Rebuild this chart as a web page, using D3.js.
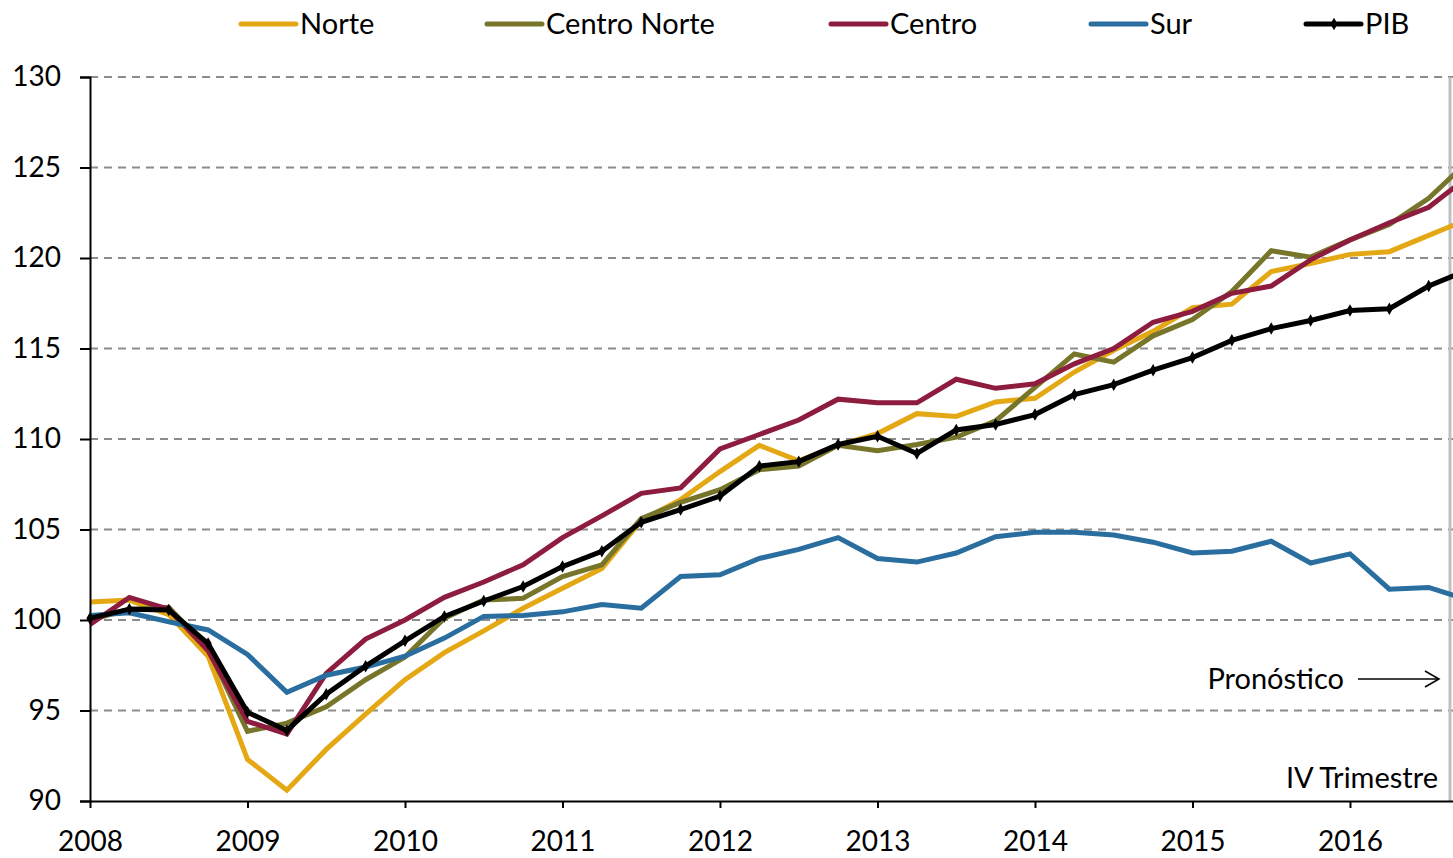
<!DOCTYPE html>
<html>
<head>
<meta charset="utf-8">
<script src="https://cdn.jsdelivr.net/npm/d3@7"></script>
<style>
  body { margin: 0; background: #fff; }
  svg { display: block; font-family: Lato, "Open Sans", sans-serif; }
</style>
</head>
<body>
<svg id="chart" width="1453" height="858"></svg>
<script>
// quarterly index, 2008 Q1 = first point
const years = [2008, 2009, 2010, 2011, 2012, 2013, 2014, 2015, 2016];
const quarters = years.flatMap(y => [0, 0.25, 0.5, 0.75].map(q => y + q));

const norte = [101.0, 101.1, 100.3, 98.0, 92.3, 90.6, 92.85, 94.8, 96.7, 98.2, 99.4, 100.65,
  101.75, 102.85, 105.5, 106.65, 108.2, 109.65, 108.8, 109.65, 110.3, 111.4, 111.25, 112.05,
  112.25, 113.7, 114.9, 115.95, 117.25, 117.45, 119.25, 119.7, 120.2, 120.35, 121.25, 122.15];
const centroNorte = [100.0, 100.6, 100.7, 98.4, 93.85, 94.3, 95.2, 96.7, 97.95, 100.1, 101.1, 101.2,
  102.4, 103.05, 105.6, 106.5, 107.2, 108.3, 108.5, 109.65, 109.35, 109.7, 110.1, 111.0,
  112.85, 114.7, 114.25, 115.7, 116.6, 118.15, 120.4, 120.05, 121.0, 121.85, 123.3, 125.35];
const centro = [99.75, 101.25, 100.6, 98.3, 94.4, 93.7, 97.05, 98.95, 100.0, 101.25, 102.1, 103.05,
  104.55, 105.75, 107.0, 107.3, 109.45, 110.25, 111.05, 112.2, 112.0, 112.0, 113.3, 112.8,
  113.05, 114.15, 115.0, 116.45, 117.05, 118.05, 118.45, 119.9, 121.0, 121.95, 122.8, 124.5];
const sur = [100.25, 100.4, 99.9, 99.45, 98.1, 96.0, 96.95, 97.4, 98.0, 99.0, 100.2, 100.25,
  100.45, 100.85, 100.65, 102.4, 102.5, 103.4, 103.9, 104.55, 103.4, 103.2, 103.7, 104.6,
  104.85, 104.85, 104.7, 104.3, 103.7, 103.8, 104.35, 103.15, 103.65, 101.7, 101.8, 101.1];
const pib = [100.1, 100.6, 100.55, 98.7, 94.9, 93.9, 95.9, 97.45, 98.85, 100.2, 101.05, 101.85,
  102.95, 103.8, 105.4, 106.1, 106.85, 108.5, 108.75, 109.7, 110.15, 109.2, 110.5, 110.8,
  111.35, 112.45, 113.0, 113.8, 114.5, 115.45, 116.1, 116.55, 117.1, 117.2, 118.45, 119.35];

const yTicks = [90, 95, 100, 105, 110, 115, 120, 125, 130];

const series = [
  { name: "Norte", color: "#e4a815", values: norte },
  { name: "Centro Norte", color: "#76752a", values: centroNorte },
  { name: "Centro", color: "#8d1c3e", values: centro },
  { name: "Sur", color: "#2a6e9f", values: sur },
  { name: "PIB", color: "#000000", values: pib, marker: true }
];

const svg = d3.select("#chart");
const plotLeft = 90, plotTop = 77, plotBottom = 801;

const x = d3.scaleLinear().domain([2008, 2016.75]).range([plotLeft, 1468.1]);
const y = d3.scaleLinear().domain([90, 130]).range([plotBottom, plotTop]);

// ---------- grid ----------
svg.append("g")
  .selectAll("line")
  .data(yTicks.filter(d => d > 90))
  .join("line")
  .attr("x1", plotLeft)
  .attr("x2", 1453)
  .attr("y1", d => y(d))
  .attr("y2", d => y(d))
  .attr("stroke", "#8c8c8c")
  .attr("stroke-width", 2)
  .attr("stroke-dasharray", "8 6");

// forecast separator
svg.append("line")
  .attr("x1", 1450).attr("x2", 1450)
  .attr("y1", plotTop).attr("y2", plotBottom)
  .attr("stroke", "#bfbfbf")
  .attr("stroke-width", 3);

// ---------- lines ----------
const line = d3.line()
  .x((d, i) => x(quarters[i]))
  .y(d => y(d));

series.forEach(s => {
  svg.append("path")
    .datum(s.values)
    .attr("fill", "none")
    .attr("stroke", s.color)
    .attr("stroke-width", 5)
    .attr("stroke-linejoin", "miter")
    .attr("d", line);

  if (s.marker) {
    svg.append("g")
      .selectAll("path")
      .data(s.values)
      .join("path")
      .attr("transform", (d, i) => `translate(${x(quarters[i])},${y(d)})`)
      .attr("d", d3.symbol(d3.symbolDiamond, 45))
      .attr("fill", s.color);
  }
});

// ---------- axes ----------
const yAxis = svg.append("g")
  .attr("transform", `translate(${plotLeft},0)`)
  .call(d3.axisLeft(y).tickValues(yTicks).tickSize(10).tickPadding(19));
yAxis.select(".domain").attr("stroke", "#000").attr("stroke-width", 2);
yAxis.selectAll(".tick line").attr("stroke", "#000").attr("stroke-width", 2);
yAxis.selectAll("text")
  .attr("font-family", "Lato, sans-serif")
  .attr("font-size", 28)
  .attr("fill", "#000");

const xAxis = svg.append("g")
  .attr("transform", `translate(0,${plotBottom})`)
  .call(d3.axisBottom(x).tickValues(years).tickSize(7).tickFormat(d3.format("d")).tickSizeOuter(0));
xAxis.select(".domain").attr("stroke", "#000").attr("stroke-width", 2);
xAxis.selectAll(".tick line").attr("stroke", "#000").attr("stroke-width", 2);
xAxis.selectAll("text")
  .attr("y", 50)
  .attr("dy", 0)
  .attr("font-family", "Lato, sans-serif")
  .attr("font-size", 28)
  .attr("fill", "#000");

// ---------- annotations ----------
svg.append("text")
  .attr("x", 1344).attr("y", 689)
  .attr("text-anchor", "end")
  .attr("font-size", 29)
  .text("Pronóstico");

svg.append("line")
  .attr("x1", 1358).attr("x2", 1438)
  .attr("y1", 679).attr("y2", 679)
  .attr("stroke", "#000").attr("stroke-width", 1.5);
svg.append("path")
  .attr("d", "M1425,671 L1439,679 L1425,687")
  .attr("fill", "none")
  .attr("stroke", "#000").attr("stroke-width", 1.5);

svg.append("text")
  .attr("x", 1438).attr("y", 788)
  .attr("text-anchor", "end")
  .attr("font-size", 29)
  .text("IV Trimestre");

// ---------- legend ----------
const legendX = [241, 487, 831, 1091, 1306];
const legend = svg.append("g");
series.forEach((s, i) => {
  const g = legend.append("g").attr("transform", `translate(${legendX[i]},24)`);
  g.append("line")
    .attr("x1", 0).attr("x2", 55)
    .attr("stroke", s.color)
    .attr("stroke-width", 5)
    .attr("stroke-linecap", "round");
  if (s.marker) {
    g.append("path")
      .attr("transform", "translate(28,0)")
      .attr("d", d3.symbol(d3.symbolDiamond, 45))
      .attr("fill", s.color);
  }
  g.append("text")
    .attr("x", 59)
    .attr("dy", "0.36em")
    .attr("font-size", 29)
    .text(s.name);
});
</script>
</body>
</html>
